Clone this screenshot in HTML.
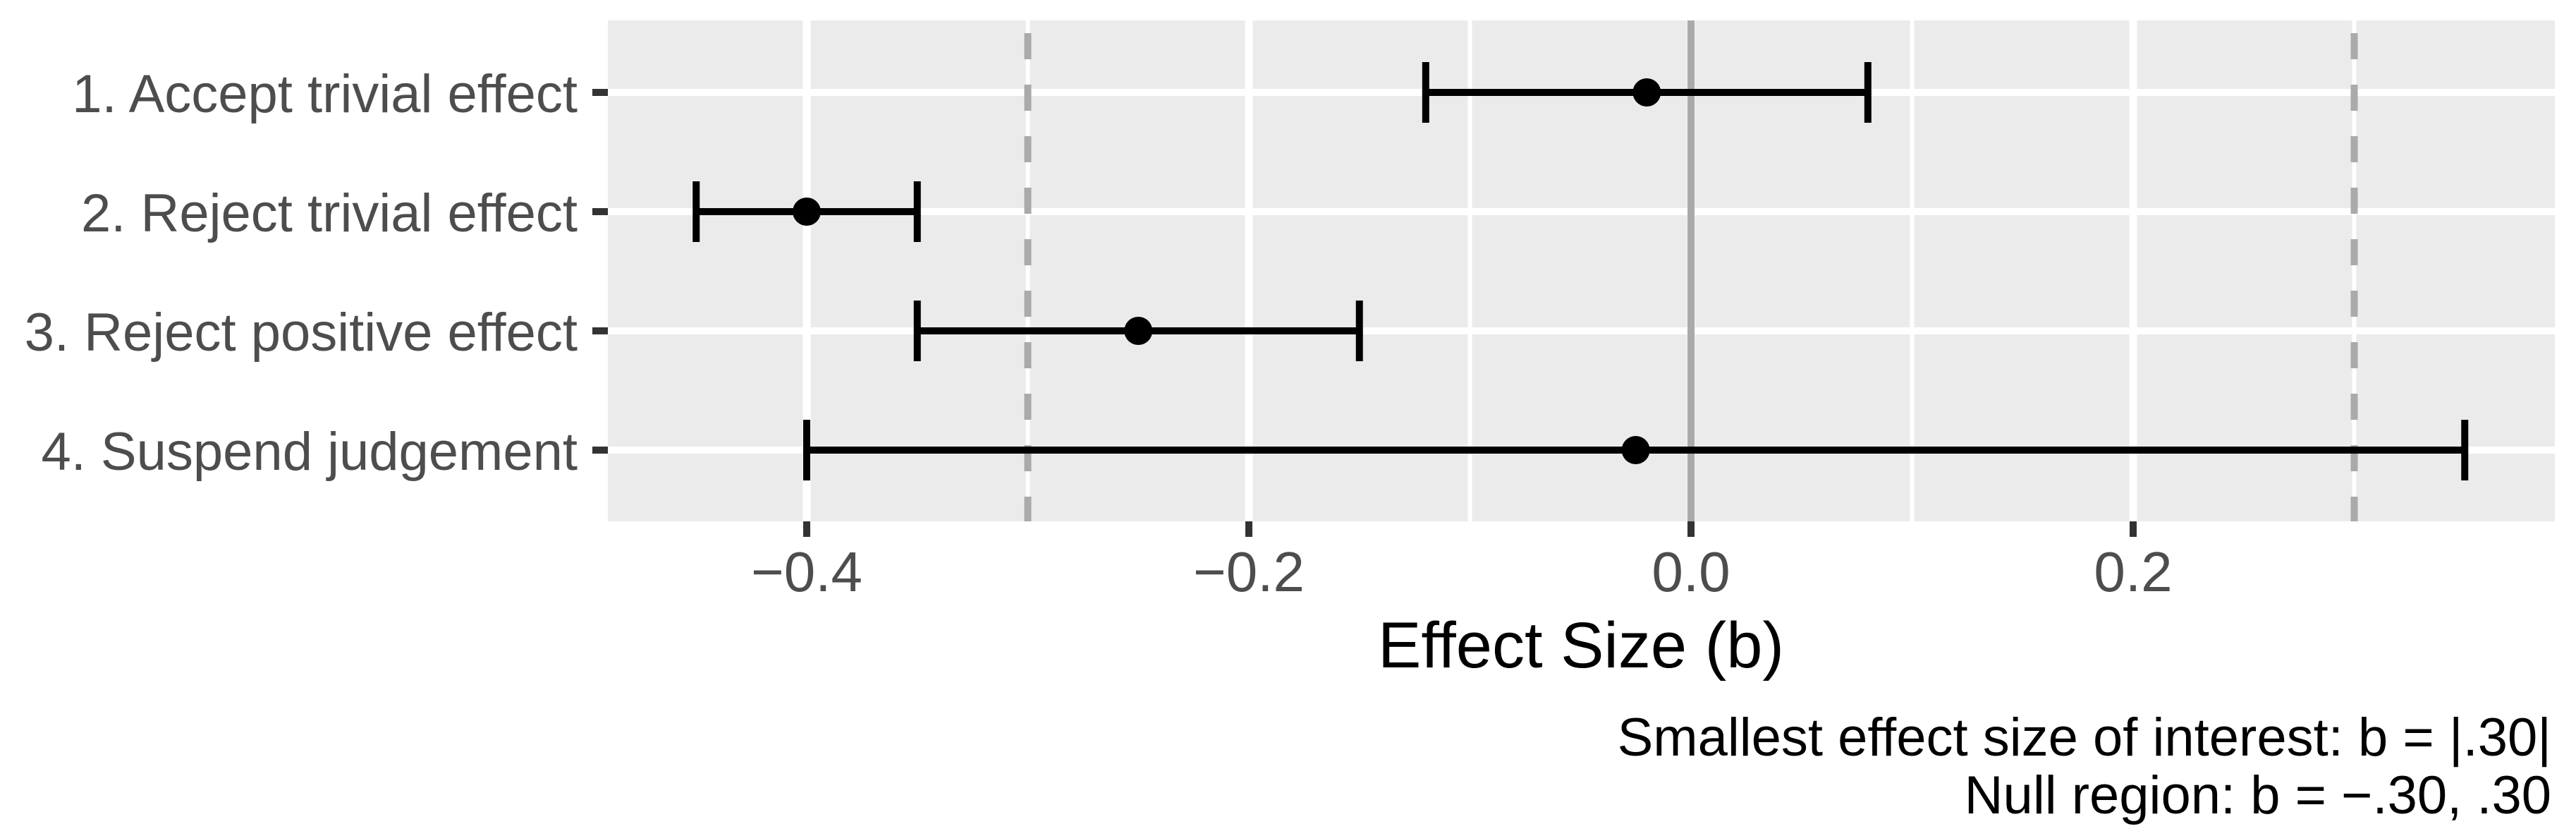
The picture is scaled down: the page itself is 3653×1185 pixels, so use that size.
<!DOCTYPE html>
<html><head><meta charset="utf-8"><style>
html,body{margin:0;padding:0;background:#fff;}
svg{display:block;font-family:"Liberation Sans",Arial,sans-serif;}
</style></head><body>
<svg id="chart" width="3653" height="1185" viewBox="0 0 3653 1185" xmlns="http://www.w3.org/2000/svg">
<rect x="0" y="0" width="3653" height="1185" fill="#fff"/>
<rect x="862" y="29" width="2761" height="710" fill="#ebebeb"/>
<g id="grid"></g><g id="refs"></g><g id="marks"></g><g id="axes"></g>
<text x="2242" y="946" font-size="92" text-anchor="middle" fill="#000">Effect Size (b)</text>
<text x="3618" y="1071" font-size="76" text-anchor="end" fill="#000">Smallest effect size of interest: b = |.30|</text>
<text x="3618" y="1153" font-size="76" text-anchor="end" fill="#000">Null region: b = −.30, .30</text>
</svg>
<script>
const categories = ["1. Accept trivial effect","2. Reject trivial effect","3. Reject positive effect","4. Suspend judgement"];
const estimates = [-0.02, -0.40, -0.25, -0.025];
const lowers = [-0.12, -0.45, -0.35, -0.40];
const uppers = [0.08, -0.35, -0.15, 0.35];
const majorTicks = [-0.4, -0.2, 0.0, 0.2];
const tickLabels = ["−0.4", "−0.2", "0.0", "0.2"];
const minorTicks = [-0.3, -0.1, 0.1, 0.3];
const nullBounds = [-0.3, 0.3];

const NS = "http://www.w3.org/2000/svg";
const X0 = 2398, K = 3135;
function xs(v){ return X0 + v*K; }
const rowY = [131, 300, 469, 638];
function ys(i){ return rowY[0] + i*(rowY[3]-rowY[0])/(categories.length-1); }
const PL=862, PR=3623, PT=29, PB=739;
function mk(tag, attrs, parent){ const e=document.createElementNS(NS,tag); for(const k in attrs) e.setAttribute(k,attrs[k]); parent.appendChild(e); return e; }
const grid=document.getElementById('grid'), refs=document.getElementById('refs'), marks=document.getElementById('marks'), axes=document.getElementById('axes');

minorTicks.forEach(v=>{
  const l=mk('line',{x1:xs(v),x2:xs(v),y1:PT,y2:PB,stroke:'#fff','stroke-width':6},grid);
  
  
});
majorTicks.forEach((v,i)=>{
  const l=mk('line',{x1:xs(v),x2:xs(v),y1:PT,y2:PB,stroke:'#fff','stroke-width':11},grid);
  
  
  const t=mk('line',{x1:xs(v),x2:xs(v),y1:PB,y2:PB+22,stroke:'#333','stroke-width':10},axes);
  
  
  const tx=mk('text',{x:xs(v),y:838,'font-size':80,'text-anchor':'middle',fill:'#4d4d4d'},axes);
  tx.textContent=tickLabels[i];
  
  
});
categories.forEach((c,i)=>{
  const y=ys(i);
  const l=mk('line',{x1:PL,x2:PR,y1:y,y2:y,stroke:'#fff','stroke-width':10},grid);
  
  
  const t=mk('line',{x1:PL-22,x2:PL,y1:y,y2:y,stroke:'#333','stroke-width':10},axes);
  
  
  const tx=mk('text',{x:819,y:y+28,'font-size':76,'text-anchor':'end',fill:'#4d4d4d'},axes);
  tx.textContent=c;
  
  
});
const zl=mk('line',{x1:xs(0),x2:xs(0),y1:PT,y2:PB,stroke:'#aaaaaa','stroke-width':10},refs);


nullBounds.forEach(v=>{
  const l=mk('line',{x1:xs(v),x2:xs(v),y1:PT,y2:PB,stroke:'#aaaaaa','stroke-width':10,'stroke-dasharray':'37 36','stroke-dashoffset':55},refs);
  
  
});
categories.forEach((c,i)=>{
  const y=ys(i);
  const g=mk('g',{},marks);
  
  
  mk('line',{x1:xs(lowers[i]),x2:xs(uppers[i]),y1:y,y2:y,stroke:'#000','stroke-width':10},g);
  mk('line',{x1:xs(lowers[i]),x2:xs(lowers[i]),y1:y-43,y2:y+43,stroke:'#000','stroke-width':10},g);
  mk('line',{x1:xs(uppers[i]),x2:xs(uppers[i]),y1:y-43,y2:y+43,stroke:'#000','stroke-width':10},g);
  const p=mk('circle',{cx:xs(estimates[i]),cy:y,r:20,fill:'#000'},g);
  
  
});
</script>
</body></html>
